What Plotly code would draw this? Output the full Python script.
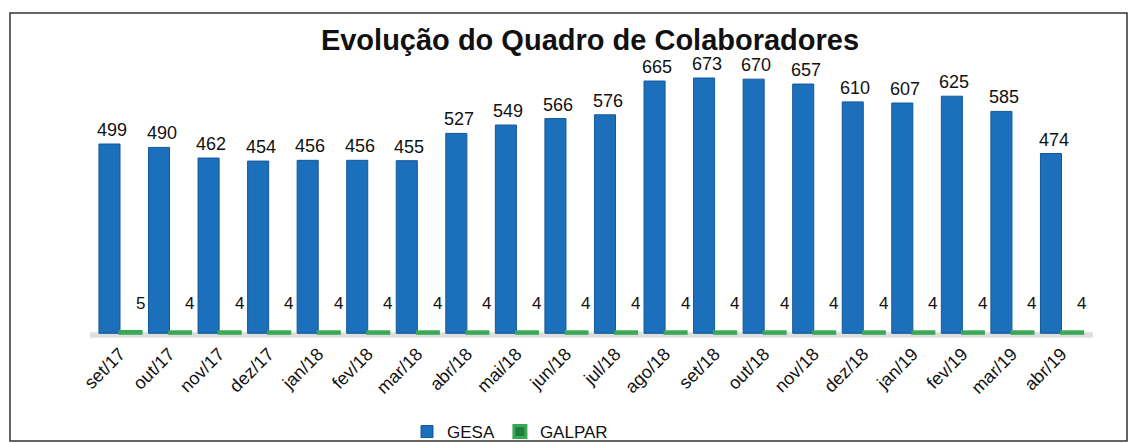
import plotly.graph_objects as go

months = ["set/17", "out/17", "nov/17", "dez/17", "jan/18", "fev/18", "mar/18", "abr/18",
          "mai/18", "jun/18", "jul/18", "ago/18", "set/18", "out/18", "nov/18", "dez/18",
          "jan/19", "fev/19", "mar/19", "abr/19"]
gesa = [499, 490, 462, 454, 456, 456, 455, 527, 549, 566, 576, 665, 673, 670, 657, 610,
        607, 625, 585, 474]
galpar = [5, 4, 4, 4, 4, 4, 4, 4, 4, 4, 4, 4, 4, 4, 4, 4, 4, 4, 4, 4]

W, H = 1134, 443
ML, MR, MT, MB = 95, 46, 45, 104
FONT = "Liberation Sans, Arial, sans-serif"

fig = go.Figure()
fig.add_trace(go.Bar(
    name="GESA", x=months, y=gesa,
    marker=dict(color="#1c6fba", line=dict(color="#12589c", width=1)),
))
fig.add_trace(go.Bar(
    name="GALPAR", x=months, y=galpar,
    marker=dict(color="#1f7f3a", line=dict(color="#3aa857", width=3)),
))

annotations = []
for m, v in zip(months, gesa):
    annotations.append(dict(x=m, y=v, text=str(v), showarrow=False, xref="x", yref="y",
                            xshift=-8, yshift=14, yanchor="middle",
                            font=dict(size=18, color="#111", family=FONT)))
for m, v in zip(months, galpar):
    annotations.append(dict(x=m, y=v, text=str(v), showarrow=False, xref="x", yref="y",
                            xshift=20, yshift=28, yanchor="middle",
                            font=dict(size=17, color="#111", family=FONT)))

pw = W - ML - MR
ph = H - MT - MB
def px_x(p):
    return (p - ML) / pw
def px_y(p):
    return (H - MB - p) / ph

shapes = [
    dict(type="rect", xref="paper", yref="y", x0=-0.005, x1=1.005, y0=-12, y1=3,
         fillcolor="#dbe0dd", line=dict(width=0), layer="below"),
    dict(type="rect", xref="paper", yref="paper", x0=px_x(10), x1=px_x(1127),
         y0=px_y(441), y1=px_y(13), line=dict(color="#333", width=1.5),
         fillcolor="rgba(0,0,0,0)"),
]

fig.update_layout(
    width=W, height=H,
    margin=dict(l=ML, r=MR, t=MT, b=MB, autoexpand=False),
    paper_bgcolor="white", plot_bgcolor="white",
    barmode="group", bargap=0.15, bargroupgap=0,
    title=dict(text="<b>Evolução do Quadro de Colaboradores</b>", x=590 / W, xanchor="center",
               y=1 - 40 / H, yanchor="middle",
               font=dict(size=29, color="#111", family=FONT)),
    font=dict(family=FONT, color="#111"),
    xaxis=dict(tickangle=-45, tickfont=dict(size=18, color="#111"), showline=False,
               ticks="", showgrid=False, automargin=False),
    yaxis=dict(range=[-15, 760], visible=False, showgrid=False, zeroline=False),
    legend=dict(orientation="h", x=px_x(510), xanchor="center", y=px_y(432), yanchor="middle",
                font=dict(size=17, color="#111"), itemwidth=30, traceorder="normal",
                bgcolor="rgba(0,0,0,0)", tracegroupgap=0),
    annotations=annotations,
    shapes=shapes,
    showlegend=True,
)

fig.write_html("out.html", config={"displayModeBar": False},
               post_script="document.body.style.margin='0';")
